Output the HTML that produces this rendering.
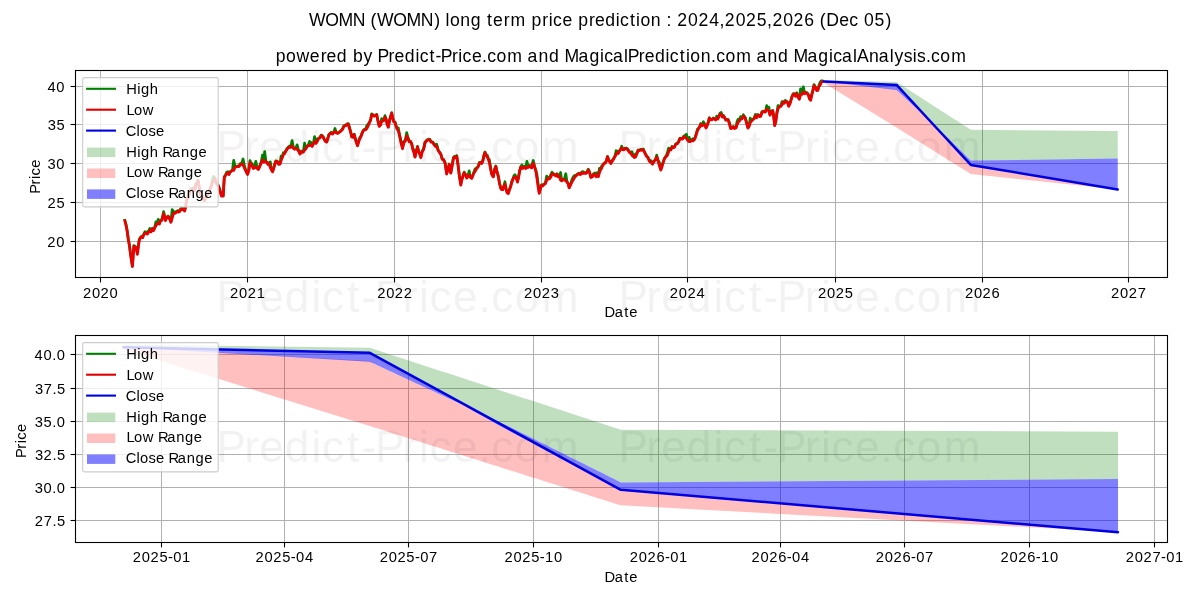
<!DOCTYPE html><html><head><meta charset="utf-8"><style>html,body{margin:0;padding:0;background:#fff;overflow:hidden}svg{display:block;will-change:transform}text{font-family:"Liberation Sans", sans-serif}</style></head><body>
<svg width="1200" height="600" viewBox="0 0 1200 600">
<rect width="1200" height="600" fill="#fff"/>
<defs><clipPath id="c1"><rect x="75.5" y="70.5" width="1092.0" height="207.0"/></clipPath>
<clipPath id="c2"><rect x="75.5" y="335.5" width="1092.0" height="207.0"/></clipPath></defs>
<text x="309.05 325.27 338.48 352.83 365.60 370.55 377.06 393.28 406.50 420.84 434.17 440.09 445.53 449.98 460.36 470.76 481.22 487.07 493.06 503.83 510.38 525.95 531.51 542.37 548.76 552.99 562.40 572.56 578.13 588.99 594.91 605.16 615.78 620.00 629.93 636.04 640.49 650.86 661.18 666.62 672.05 677.31 688.09 698.44 709.23 719.44 724.86 735.64 745.99 756.72 766.99 772.41 783.19 793.54 804.33 814.71 819.66 826.34 839.31 849.25 858.61 864.08 874.58 885.58" y="25.80" font-size="17.60" fill="#000">WOMN (WOMN) long term price prediction : 2024,2025,2026 (Dec 05)</text>
<text x="275.77 286.04 296.45 309.87 320.65 326.57 336.84 347.31 352.88 363.47 372.99 377.49 388.62 394.54 404.80 415.44 419.67 429.61 435.43 440.77 451.90 458.30 462.52 471.95 482.12 487.18 496.55 507.34 522.93 527.59 538.62 549.03 559.50 564.43 578.51 589.41 600.05 604.28 613.02 624.00 627.67 638.80 644.72 654.98 665.62 669.85 679.79 685.90 690.35 700.74 711.06 716.13 725.50 736.29 751.88 756.53 767.56 777.98 788.45 793.38 807.45 818.36 829.00 833.22 841.96 852.94 857.02 868.99 878.69 889.67 894.45 903.82 912.80 917.11 925.91 930.98 940.35 951.14" y="61.70" font-size="17.62" fill="#000">powered by Predict-Price.com and MagicalPrediction.com and MagicalAnalysis.com</text>
<line x1="75.5" x2="1167.5" y1="241.50" y2="241.50" stroke="#b0b0b0" stroke-width="1.0"/>
<line x1="75.5" x2="1167.5" y1="202.50" y2="202.50" stroke="#b0b0b0" stroke-width="1.0"/>
<line x1="75.5" x2="1167.5" y1="163.50" y2="163.50" stroke="#b0b0b0" stroke-width="1.0"/>
<line x1="75.5" x2="1167.5" y1="124.50" y2="124.50" stroke="#b0b0b0" stroke-width="1.0"/>
<line x1="75.5" x2="1167.5" y1="86.50" y2="86.50" stroke="#b0b0b0" stroke-width="1.0"/>
<line x1="100.50" x2="100.50" y1="70.5" y2="277.5" stroke="#b0b0b0" stroke-width="1.0"/>
<line x1="247.50" x2="247.50" y1="70.5" y2="277.5" stroke="#b0b0b0" stroke-width="1.0"/>
<line x1="394.50" x2="394.50" y1="70.5" y2="277.5" stroke="#b0b0b0" stroke-width="1.0"/>
<line x1="541.50" x2="541.50" y1="70.5" y2="277.5" stroke="#b0b0b0" stroke-width="1.0"/>
<line x1="687.50" x2="687.50" y1="70.5" y2="277.5" stroke="#b0b0b0" stroke-width="1.0"/>
<line x1="835.50" x2="835.50" y1="70.5" y2="277.5" stroke="#b0b0b0" stroke-width="1.0"/>
<line x1="982.50" x2="982.50" y1="70.5" y2="277.5" stroke="#b0b0b0" stroke-width="1.0"/>
<line x1="1128.50" x2="1128.50" y1="70.5" y2="277.5" stroke="#b0b0b0" stroke-width="1.0"/>
<g clip-path="url(#c1)">
<path d="M823.77,80.05 L896.56,81.99 L897.90,82.86 L899.25,83.72 L900.60,84.59 L901.95,85.46 L903.29,86.33 L904.64,87.19 L905.99,88.06 L907.33,88.93 L908.68,89.80 L910.03,90.66 L911.38,91.53 L912.72,92.40 L914.07,93.27 L915.42,94.13 L916.77,95.00 L918.11,95.87 L919.46,96.74 L920.81,97.60 L922.15,98.47 L923.50,99.34 L924.85,100.21 L926.20,101.07 L927.54,101.94 L928.89,102.81 L930.24,103.68 L931.58,104.54 L932.93,105.41 L934.28,106.28 L935.63,107.15 L936.97,108.01 L938.10,108.74 L939.23,109.46 L940.35,110.19 L941.48,110.91 L942.60,111.64 L943.73,112.36 L944.86,113.09 L945.98,113.81 L947.11,114.54 L948.23,115.26 L949.36,115.99 L950.49,116.72 L951.61,117.44 L952.74,118.17 L953.86,118.89 L954.99,119.62 L956.12,120.34 L957.24,121.07 L958.37,121.79 L959.49,122.52 L960.62,123.24 L961.75,123.97 L962.87,124.69 L964.00,125.42 L965.12,126.14 L966.25,126.87 L967.38,127.59 L968.50,128.32 L969.63,129.04 L970.75,129.77 L1117.74,131.01 L1117.74,158.62 L970.75,160.56 L969.63,159.45 L968.50,158.33 L967.38,157.22 L966.25,156.11 L965.12,155.00 L964.00,153.89 L962.87,152.78 L961.75,151.67 L960.62,150.56 L959.49,149.44 L958.37,148.33 L957.24,147.22 L956.12,146.11 L954.99,145.00 L953.86,143.89 L952.74,142.78 L951.61,141.67 L950.49,140.55 L949.36,139.44 L948.23,138.33 L947.11,137.22 L945.98,136.11 L944.86,135.00 L943.73,133.89 L942.60,132.77 L941.48,131.66 L940.35,130.55 L939.23,129.44 L938.10,128.33 L936.97,127.22 L935.63,125.98 L934.28,124.74 L932.93,123.50 L931.58,122.26 L930.24,121.02 L928.89,119.79 L927.54,118.55 L926.20,117.31 L924.85,116.07 L923.50,114.75 L922.15,113.26 L920.81,111.76 L919.46,110.27 L918.11,108.77 L916.77,107.28 L915.42,105.78 L914.07,104.29 L912.72,102.80 L911.38,101.30 L910.03,99.81 L908.68,98.31 L907.33,96.82 L905.99,95.32 L904.64,93.83 L903.29,92.33 L901.95,90.84 L900.60,89.34 L899.25,87.85 L897.90,86.35 L896.56,84.86 L823.77,81.60 Z" fill="#008000" fill-opacity="0.25"/>
<path d="M823.77,81.60 L896.56,89.59 L897.90,91.29 L899.25,92.53 L900.60,93.77 L901.95,95.01 L903.29,96.25 L904.64,97.49 L905.99,98.73 L907.33,99.97 L908.68,101.20 L910.03,102.44 L911.38,103.68 L912.72,104.92 L914.07,106.16 L915.42,107.40 L916.77,108.64 L918.11,109.88 L919.46,111.11 L920.81,112.35 L922.15,113.59 L923.50,114.83 L924.85,116.25 L926.20,117.74 L927.54,119.24 L928.89,120.73 L930.24,122.23 L931.58,123.72 L932.93,125.22 L934.28,126.71 L935.63,128.21 L936.97,129.70 L938.10,130.87 L939.23,132.05 L940.35,133.22 L941.48,134.39 L942.60,135.57 L943.73,136.74 L944.86,137.91 L945.98,139.09 L947.11,140.26 L948.23,141.43 L949.36,142.61 L950.49,143.78 L951.61,144.95 L952.74,146.13 L953.86,147.30 L954.99,148.47 L956.12,149.65 L957.24,150.82 L958.37,151.99 L959.49,153.17 L960.62,154.34 L961.75,155.51 L962.87,156.69 L964.00,157.86 L965.12,159.03 L966.25,160.21 L967.38,161.38 L968.50,162.55 L969.63,163.73 L970.75,164.90 L1117.74,189.64 L1117.74,189.57 L970.75,173.98 L969.63,173.27 L968.50,172.57 L967.38,171.86 L966.25,171.16 L965.12,170.46 L964.00,169.75 L962.87,169.05 L961.75,168.34 L960.62,167.64 L959.49,166.94 L958.37,166.23 L957.24,165.53 L956.12,164.82 L954.99,164.12 L953.86,163.42 L952.74,162.71 L951.61,162.01 L950.49,161.31 L949.36,160.60 L948.23,159.90 L947.11,159.19 L945.98,158.49 L944.86,157.79 L943.73,157.08 L942.60,156.38 L941.48,155.67 L940.35,154.97 L939.23,154.27 L938.10,153.56 L936.97,152.86 L935.63,152.02 L934.28,151.17 L932.93,150.33 L931.58,149.49 L930.24,148.65 L928.89,147.81 L927.54,146.96 L926.20,146.12 L924.85,145.28 L923.50,144.44 L922.15,143.60 L920.81,142.75 L919.46,141.91 L918.11,141.07 L916.77,140.23 L915.42,139.38 L914.07,138.54 L912.72,137.70 L911.38,136.86 L910.03,136.02 L908.68,135.17 L907.33,134.33 L905.99,133.49 L904.64,132.65 L903.29,131.81 L901.95,130.96 L900.60,130.12 L899.25,129.28 L897.90,128.44 L896.56,127.59 L823.77,82.84 Z" fill="#ff0000" fill-opacity="0.25"/>
</g>
<g clip-path="url(#c1)">
<path d="M124.5,219.0 L126.0,224.2 L127.1,230.3 L128.2,238.3 L129.4,244.9 L130.6,254.4 L132.4,266.0 L133.9,245.6 L135.5,246.9 L136.4,249.2 L137.4,252.0 L139.2,239.9 L140.4,237.4 L141.6,236.3 L142.7,237.0 L143.8,234.0 L145.0,231.6 L146.1,232.8 L147.3,231.6 L148.6,231.8 L149.8,228.4 L151.0,231.5 L152.3,228.3 L153.5,230.1 L154.7,227.2 L155.9,221.8 L157.1,223.5 L158.2,219.3 L159.4,223.5 L160.5,220.4 L161.7,219.7 L162.6,216.7 L163.6,211.5 L165.4,218.9 L166.8,217.4 L168.1,215.9 L169.5,218.0 L170.9,221.8 L172.2,209.5 L173.6,211.5 L174.8,212.9 L176.1,211.7 L177.3,210.9 L178.5,210.6 L179.8,210.9 L181.0,208.4 L182.2,208.6 L183.5,208.4 L184.7,210.5 L185.8,205.1 L187.0,198.2 L188.2,197.6 L189.3,192.4 L190.5,190.0 L191.7,188.8 L193.1,188.1 L194.6,189.9 L195.8,184.0 L196.9,182.9 L198.1,180.3 L199.2,186.6 L200.4,194.3 L201.8,194.7 L203.1,197.0 L204.5,200.3 L205.7,197.9 L206.8,195.0 L208.0,194.0 L209.2,192.1 L210.3,187.9 L211.5,185.4 L212.7,178.6 L213.8,176.5 L215.0,178.2 L216.2,182.3 L217.3,184.5 L218.5,185.6 L219.9,189.9 L221.4,195.4 L223.2,195.7 L224.3,176.8 L225.5,175.0 L226.6,172.3 L227.8,171.7 L229.0,174.0 L230.1,171.7 L231.3,170.9 L232.5,169.6 L233.7,160.3 L235.0,166.3 L236.2,166.4 L237.5,166.2 L238.9,166.0 L240.3,163.6 L241.7,163.2 L243.1,159.0 L244.4,165.9 L245.8,170.5 L247.5,174.0 L248.8,170.0 L250.0,160.5 L251.1,163.6 L252.2,163.5 L253.3,168.0 L254.6,167.3 L255.8,161.3 L257.1,167.8 L258.3,169.0 L259.7,165.9 L261.1,162.5 L262.5,155.1 L263.6,161.5 L264.7,151.5 L265.8,160.8 L266.9,162.3 L268.1,164.0 L269.2,162.4 L270.3,162.0 L271.4,169.2 L272.5,170.7 L273.6,168.5 L274.7,164.2 L275.8,160.9 L277.2,161.0 L278.6,163.9 L280.0,163.6 L281.1,156.1 L282.2,157.3 L283.3,152.7 L284.6,153.2 L285.8,150.7 L287.1,148.5 L288.3,147.2 L289.6,146.0 L290.8,146.9 L292.1,140.6 L293.3,147.0 L294.6,148.7 L295.8,148.0 L297.1,144.8 L298.3,149.2 L300.0,153.6 L301.1,151.1 L302.2,151.2 L303.3,151.6 L304.6,143.2 L305.8,148.4 L307.1,146.1 L308.3,144.9 L309.6,141.5 L310.8,142.4 L312.1,145.9 L313.3,143.5 L314.6,136.5 L316.0,142.8 L317.3,139.1 L318.7,138.0 L320.0,137.5 L321.1,135.1 L322.2,135.6 L323.3,136.9 L324.4,139.5 L325.6,140.8 L326.7,141.6 L327.8,138.3 L328.9,134.4 L330.0,133.3 L331.2,132.1 L332.5,133.6 L333.8,132.0 L335.0,128.5 L336.2,132.2 L337.5,132.9 L338.8,132.2 L340.0,131.4 L341.2,130.3 L342.5,129.0 L343.8,125.9 L345.0,125.2 L346.1,124.7 L347.2,123.9 L348.3,123.6 L349.4,126.7 L350.6,131.4 L351.7,136.4 L352.9,136.8 L354.2,134.1 L355.3,138.4 L356.4,141.3 L357.5,145.4 L358.6,141.5 L359.7,137.8 L360.8,136.4 L361.9,133.4 L363.1,130.6 L364.2,129.4 L365.6,129.3 L366.9,125.4 L368.3,123.9 L369.4,122.2 L370.6,119.8 L371.7,113.8 L372.9,114.7 L374.2,115.7 L375.4,115.1 L376.7,114.3 L377.9,120.4 L379.2,125.9 L380.4,124.8 L381.7,118.5 L382.8,120.5 L383.9,120.0 L385.0,115.6 L386.1,119.0 L387.2,123.9 L388.3,126.7 L389.4,120.4 L390.6,116.1 L391.7,112.6 L392.8,118.1 L393.9,121.5 L395.0,122.0 L396.1,125.7 L397.2,128.9 L398.3,127.9 L399.7,135.5 L401.1,141.4 L402.5,147.5 L403.9,141.5 L405.3,140.2 L406.7,132.5 L407.9,137.4 L409.2,141.3 L410.4,141.1 L411.7,143.5 L412.8,148.5 L413.9,149.8 L415.0,156.7 L416.2,151.5 L417.5,146.4 L418.6,151.0 L419.7,153.5 L420.8,156.9 L422.2,151.2 L423.6,148.8 L425.0,142.1 L426.1,140.9 L427.2,139.7 L428.3,139.4 L429.7,139.2 L431.1,141.7 L432.5,141.8 L433.9,143.7 L435.3,145.8 L436.7,144.2 L438.1,149.7 L439.4,151.9 L440.8,153.8 L442.2,158.7 L443.6,159.5 L445.0,162.3 L446.7,173.5 L447.9,169.1 L449.2,164.0 L450.8,172.7 L452.1,165.5 L453.3,157.6 L454.4,156.4 L455.6,157.1 L456.7,155.5 L458.1,165.0 L459.4,175.9 L460.8,183.8 L461.7,179.8 L462.9,176.0 L464.2,172.1 L465.4,174.1 L466.7,177.6 L467.9,176.0 L469.2,170.9 L470.4,176.9 L471.7,177.9 L472.8,175.2 L473.9,172.2 L475.0,169.0 L476.1,168.2 L477.2,167.5 L478.3,166.0 L479.4,162.4 L480.6,162.2 L481.7,163.0 L482.8,160.6 L483.9,155.1 L485.0,152.0 L486.1,155.1 L487.2,155.0 L488.3,158.6 L489.4,159.7 L490.6,167.2 L491.7,173.8 L493.3,176.4 L494.6,169.2 L495.8,165.9 L497.1,172.0 L498.3,175.9 L499.4,182.2 L500.6,187.5 L501.7,189.2 L502.8,187.8 L503.9,185.8 L505.0,181.7 L506.1,188.9 L507.2,192.3 L508.3,192.2 L509.4,189.4 L510.6,186.3 L511.7,181.3 L512.8,179.2 L513.9,175.8 L515.0,174.7 L516.2,177.4 L517.5,181.6 L518.6,175.9 L519.7,170.6 L520.8,166.5 L521.9,165.0 L523.1,167.8 L524.2,166.2 L525.6,168.0 L526.9,161.4 L528.3,166.8 L529.4,165.5 L530.6,166.7 L531.7,165.1 L533.3,160.5 L534.5,165.9 L535.8,170.3 L536.9,174.3 L538.1,183.6 L539.2,191.9 L540.3,188.6 L541.4,184.8 L542.5,185.6 L543.9,184.0 L545.3,183.0 L546.7,176.0 L548.1,177.7 L549.4,178.4 L550.8,174.5 L552.0,172.1 L553.3,173.9 L554.5,174.3 L555.8,175.5 L557.0,173.6 L558.3,176.3 L559.4,175.7 L560.6,172.5 L561.7,180.4 L563.1,179.2 L564.4,179.2 L565.8,173.7 L566.9,181.4 L568.1,183.2 L569.2,187.4 L570.6,184.5 L571.9,179.6 L573.3,176.8 L574.7,175.4 L576.1,175.3 L577.5,173.9 L578.9,173.2 L580.3,174.2 L581.7,172.1 L583.0,171.6 L584.2,172.4 L585.5,173.0 L586.7,172.3 L588.3,169.1 L589.5,171.7 L590.8,177.0 L592.2,176.4 L593.6,173.6 L595.0,172.8 L596.1,176.2 L597.2,172.7 L598.3,176.2 L599.4,168.4 L600.6,169.0 L601.7,166.0 L602.8,164.8 L603.9,163.4 L605.0,162.7 L606.2,161.2 L607.5,156.3 L608.6,159.4 L609.7,161.3 L610.8,163.0 L612.2,160.6 L613.6,158.6 L615.0,155.9 L616.1,150.7 L617.2,151.0 L618.3,152.9 L619.4,150.7 L620.6,149.0 L621.7,146.2 L622.8,149.2 L623.9,149.1 L625.0,148.2 L626.1,148.0 L627.2,148.7 L628.3,150.0 L629.5,151.6 L630.8,152.6 L632.0,151.7 L633.3,155.8 L634.4,157.0 L635.6,153.8 L636.7,153.8 L638.0,150.1 L639.2,150.2 L640.6,149.4 L641.9,149.6 L643.3,149.0 L644.4,151.7 L645.6,154.0 L646.7,156.0 L648.1,157.5 L649.4,160.8 L650.8,160.5 L652.5,163.7 L653.9,161.0 L655.3,159.8 L656.7,155.1 L658.1,160.3 L659.4,162.4 L660.8,169.2 L661.9,164.6 L663.1,162.3 L664.2,158.8 L665.3,157.1 L666.4,155.6 L667.5,152.5 L668.6,148.0 L669.7,148.9 L670.8,149.4 L672.0,146.4 L673.3,147.1 L674.5,146.7 L675.8,143.8 L677.2,143.3 L678.6,141.5 L680.0,138.1 L681.2,138.3 L682.5,138.6 L683.8,136.2 L685.0,135.4 L686.4,134.3 L687.8,139.9 L689.2,137.3 L690.4,141.0 L691.6,139.8 L692.8,138.7 L694.0,139.5 L695.1,137.6 L696.2,134.0 L697.3,129.5 L698.4,128.3 L699.6,126.7 L700.7,123.6 L702.0,125.4 L703.4,121.7 L704.7,124.1 L706.0,127.5 L707.1,125.0 L708.2,122.2 L709.3,117.7 L710.6,119.3 L712.0,119.3 L713.3,117.9 L714.4,118.4 L715.6,119.4 L716.7,116.1 L717.8,118.0 L718.9,116.0 L720.0,113.2 L721.2,112.5 L722.4,116.5 L723.5,115.5 L724.7,117.4 L725.8,119.7 L726.9,119.3 L728.0,119.3 L729.4,122.6 L730.7,128.1 L732.0,127.7 L733.3,126.4 L734.6,128.0 L736.0,127.5 L737.1,121.3 L738.2,119.1 L739.3,120.6 L740.6,116.6 L742.0,118.4 L743.3,114.7 L744.3,116.2 L745.3,117.8 L746.6,122.2 L748.0,127.6 L749.1,125.7 L750.2,118.2 L751.3,120.4 L752.6,119.5 L754.0,118.3 L755.4,114.4 L756.7,115.0 L758.0,114.5 L759.4,116.0 L760.7,115.8 L762.0,111.7 L763.2,111.1 L764.4,111.5 L765.5,111.5 L766.7,105.6 L767.8,109.0 L768.9,107.1 L770.0,114.7 L771.4,111.2 L772.7,110.3 L773.7,115.6 L774.7,125.1 L775.8,121.1 L776.9,112.7 L778.0,105.5 L779.3,106.3 L780.7,106.0 L782.0,101.5 L783.1,101.6 L784.2,102.8 L785.3,100.4 L786.4,101.1 L787.6,102.3 L788.7,105.0 L789.9,103.3 L791.0,99.6 L792.1,96.1 L793.3,93.6 L794.4,93.7 L795.6,95.5 L796.7,92.7 L798.0,96.6 L799.3,98.4 L800.6,88.8 L802.0,93.9 L803.3,86.8 L804.6,92.6 L806.0,92.3 L807.3,93.0 L808.4,94.7 L809.6,98.7 L810.7,98.3 L811.8,94.1 L812.9,90.1 L814.0,84.5 L815.4,87.1 L816.7,90.0 L817.8,89.8 L818.9,85.8 L820.0,82.5 L821.2,80.9 L822.3,80.8 L823.5,81.0" fill="none" stroke="#008000" stroke-width="2.7" stroke-linejoin="round"/>
<path d="M124.5,219.5 L126.0,225.3 L127.1,230.8 L128.2,238.8 L129.4,245.4 L130.6,254.9 L132.4,266.5 L133.9,246.1 L135.5,247.4 L136.4,249.7 L137.4,254.4 L139.2,240.4 L140.4,237.9 L141.6,236.8 L142.7,237.6 L143.8,234.5 L145.0,233.0 L146.1,233.3 L147.3,234.1 L148.6,232.3 L149.8,230.4 L151.0,232.0 L152.3,228.8 L153.5,230.6 L154.7,227.9 L155.9,225.7 L157.1,224.0 L158.2,223.2 L159.4,224.0 L160.5,220.9 L161.7,220.5 L162.6,217.8 L163.6,213.7 L165.4,220.6 L166.8,217.9 L168.1,216.4 L169.5,218.5 L170.9,222.3 L172.2,217.9 L173.6,213.2 L174.8,213.4 L176.1,212.6 L177.3,211.4 L178.5,212.1 L179.8,211.4 L181.0,208.9 L182.2,209.6 L183.5,209.6 L184.7,211.0 L185.8,205.6 L187.0,198.7 L188.2,198.1 L189.3,192.9 L190.5,190.5 L191.7,189.3 L193.1,188.6 L194.6,190.4 L195.8,185.2 L196.9,183.4 L198.1,180.8 L199.2,187.1 L200.4,194.8 L201.8,195.4 L203.1,198.6 L204.5,200.8 L205.7,198.4 L206.8,195.5 L208.0,194.5 L209.2,192.6 L210.3,188.4 L211.5,185.9 L212.7,181.3 L213.8,180.6 L215.0,178.7 L216.2,182.8 L217.3,185.4 L218.5,186.1 L219.9,190.4 L221.4,196.0 L223.2,196.2 L224.3,177.3 L225.5,175.5 L226.6,174.1 L227.8,172.7 L229.0,174.5 L230.1,172.2 L231.3,171.4 L232.5,170.1 L233.7,170.4 L235.0,167.2 L236.2,166.9 L237.5,166.7 L238.9,166.5 L240.3,165.1 L241.7,163.7 L243.1,164.9 L244.4,168.0 L245.8,171.0 L247.5,174.5 L248.8,170.5 L250.0,162.7 L251.1,164.1 L252.2,166.2 L253.3,168.5 L254.6,167.8 L255.8,166.8 L257.1,168.3 L258.3,169.5 L259.7,166.7 L261.1,163.0 L262.5,159.9 L263.6,162.0 L264.7,161.9 L265.8,161.3 L266.9,162.8 L268.1,164.5 L269.2,163.6 L270.3,167.7 L271.4,169.8 L272.5,171.9 L273.6,169.0 L274.7,164.7 L275.8,161.4 L277.2,161.5 L278.6,164.4 L280.0,164.1 L281.1,160.5 L282.2,157.8 L283.3,154.8 L284.6,153.7 L285.8,151.2 L287.1,149.0 L288.3,147.7 L289.6,147.1 L290.8,147.4 L292.1,145.9 L293.3,148.1 L294.6,149.2 L295.8,148.5 L297.1,149.3 L298.3,150.7 L300.0,154.1 L301.1,151.6 L302.2,152.4 L303.3,152.1 L304.6,150.0 L305.8,148.9 L307.1,146.6 L308.3,145.5 L309.6,145.6 L310.8,144.9 L312.1,146.4 L313.3,144.0 L314.6,141.5 L316.0,143.3 L317.3,141.4 L318.7,138.5 L320.0,138.0 L321.1,135.6 L322.2,136.1 L323.3,137.4 L324.4,140.0 L325.6,141.7 L326.7,142.1 L327.8,138.8 L328.9,134.9 L330.0,133.8 L331.2,133.4 L332.5,134.1 L333.8,132.5 L335.0,131.4 L336.2,132.7 L337.5,133.4 L338.8,132.7 L340.0,131.9 L341.2,130.8 L342.5,129.5 L343.8,126.4 L345.0,125.7 L346.1,125.5 L347.2,124.4 L348.3,124.2 L349.4,128.3 L350.6,131.9 L351.7,136.9 L352.9,137.3 L354.2,134.6 L355.3,139.0 L356.4,142.8 L357.5,145.9 L358.6,142.0 L359.7,139.0 L360.8,136.9 L361.9,133.9 L363.1,131.1 L364.2,129.9 L365.6,129.8 L366.9,128.5 L368.3,125.6 L369.4,122.7 L370.6,120.3 L371.7,114.7 L372.9,115.4 L374.2,116.2 L375.4,115.6 L376.7,114.8 L377.9,120.9 L379.2,126.4 L380.4,125.3 L381.7,121.3 L382.8,121.0 L383.9,120.5 L385.0,117.1 L386.1,119.5 L387.2,124.4 L388.3,127.2 L389.4,121.4 L390.6,116.9 L391.7,113.1 L392.8,118.6 L393.9,122.0 L395.0,122.5 L396.1,126.2 L397.2,129.4 L398.3,130.6 L399.7,136.0 L401.1,143.2 L402.5,148.7 L403.9,142.7 L405.3,141.0 L406.7,135.9 L407.9,137.9 L409.2,141.8 L410.4,141.6 L411.7,144.0 L412.8,149.5 L413.9,152.6 L415.0,157.2 L416.2,152.1 L417.5,146.9 L418.6,151.5 L419.7,154.0 L420.8,157.7 L422.2,151.7 L423.6,149.3 L425.0,143.1 L426.1,141.4 L427.2,140.2 L428.3,139.9 L429.7,139.7 L431.1,142.2 L432.5,142.3 L433.9,144.2 L435.3,146.3 L436.7,146.5 L438.1,150.3 L439.4,152.4 L440.8,154.3 L442.2,159.2 L443.6,160.0 L445.0,162.8 L446.7,174.0 L447.9,169.6 L449.2,164.5 L450.8,173.2 L452.1,166.0 L453.3,159.4 L454.4,156.9 L455.6,157.6 L456.7,156.5 L458.1,165.5 L459.4,176.4 L460.8,185.2 L461.7,180.3 L462.9,176.5 L464.2,172.8 L465.4,174.6 L466.7,178.1 L467.9,176.5 L469.2,175.1 L470.4,177.4 L471.7,178.4 L472.8,175.7 L473.9,172.7 L475.0,171.7 L476.1,169.4 L477.2,168.0 L478.3,166.5 L479.4,163.3 L480.6,162.7 L481.7,163.5 L482.8,161.1 L483.9,156.0 L485.0,152.5 L486.1,155.6 L487.2,156.7 L488.3,159.1 L489.4,162.8 L490.6,169.0 L491.7,174.3 L493.3,176.9 L494.6,169.7 L495.8,166.4 L497.1,172.5 L498.3,176.4 L499.4,182.7 L500.6,188.0 L501.7,189.7 L502.8,189.7 L503.9,186.3 L505.0,184.2 L506.1,189.4 L507.2,192.8 L508.3,193.6 L509.4,190.1 L510.6,186.8 L511.7,182.7 L512.8,179.7 L513.9,177.7 L515.0,177.1 L516.2,177.9 L517.5,182.1 L518.6,177.4 L519.7,171.1 L520.8,167.0 L521.9,168.3 L523.1,168.3 L524.2,166.7 L525.6,168.5 L526.9,167.6 L528.3,167.3 L529.4,166.0 L530.6,167.2 L531.7,167.9 L533.3,163.3 L534.5,167.0 L535.8,170.8 L536.9,178.0 L538.1,186.6 L539.2,193.4 L540.3,189.1 L541.4,185.8 L542.5,186.1 L543.9,184.5 L545.3,183.8 L546.7,180.5 L548.1,178.2 L549.4,178.9 L550.8,177.2 L552.0,173.7 L553.3,174.4 L554.5,174.8 L555.8,176.0 L557.0,174.1 L558.3,176.8 L559.4,176.2 L560.6,180.1 L561.7,180.9 L563.1,179.7 L564.4,179.7 L565.8,180.8 L566.9,181.9 L568.1,183.7 L569.2,187.9 L570.6,185.0 L571.9,182.0 L573.3,179.8 L574.7,177.3 L576.1,175.8 L577.5,174.4 L578.9,173.7 L580.3,174.7 L581.7,172.7 L583.0,173.5 L584.2,172.9 L585.5,173.5 L586.7,172.8 L588.3,170.0 L589.5,172.2 L590.8,177.5 L592.2,176.9 L593.6,174.7 L595.0,174.5 L596.1,176.7 L597.2,174.6 L598.3,176.7 L599.4,172.8 L600.6,169.7 L601.7,168.0 L602.8,165.3 L603.9,163.9 L605.0,163.2 L606.2,161.7 L607.5,156.8 L608.6,159.9 L609.7,161.8 L610.8,163.5 L612.2,161.1 L613.6,159.1 L615.0,156.4 L616.1,154.6 L617.2,152.6 L618.3,153.4 L619.4,151.3 L620.6,149.5 L621.7,147.9 L622.8,149.7 L623.9,149.9 L625.0,148.7 L626.1,148.5 L627.2,149.2 L628.3,150.5 L629.5,152.6 L630.8,153.1 L632.0,155.3 L633.3,156.3 L634.4,157.5 L635.6,157.0 L636.7,154.3 L638.0,150.6 L639.2,150.7 L640.6,149.9 L641.9,150.3 L643.3,149.6 L644.4,152.2 L645.6,154.5 L646.7,156.5 L648.1,158.0 L649.4,161.3 L650.8,162.2 L652.5,164.2 L653.9,161.5 L655.3,160.3 L656.7,157.1 L658.1,160.8 L659.4,165.9 L660.8,170.1 L661.9,167.0 L663.1,162.8 L664.2,159.3 L665.3,157.6 L666.4,156.1 L667.5,155.1 L668.6,151.9 L669.7,149.4 L670.8,149.9 L672.0,146.9 L673.3,147.6 L674.5,147.2 L675.8,144.3 L677.2,143.8 L678.6,142.0 L680.0,138.6 L681.2,138.8 L682.5,139.1 L683.8,136.7 L685.0,137.3 L686.4,138.3 L687.8,140.4 L689.2,141.6 L690.4,141.5 L691.6,140.3 L692.8,140.8 L694.0,140.0 L695.1,138.1 L696.2,134.5 L697.3,131.3 L698.4,128.8 L699.6,127.2 L700.7,124.1 L702.0,125.9 L703.4,125.1 L704.7,124.6 L706.0,128.0 L707.1,125.8 L708.2,122.7 L709.3,118.2 L710.6,119.8 L712.0,119.8 L713.3,118.4 L714.4,118.9 L715.6,120.0 L716.7,118.6 L717.8,119.1 L718.9,116.5 L720.0,114.1 L721.2,114.8 L722.4,117.0 L723.5,116.0 L724.7,117.9 L725.8,120.2 L726.9,119.8 L728.0,119.8 L729.4,123.8 L730.7,128.6 L732.0,128.2 L733.3,126.9 L734.6,128.5 L736.0,128.0 L737.1,124.6 L738.2,122.0 L739.3,121.1 L740.6,119.2 L742.0,118.9 L743.3,116.2 L744.3,116.7 L745.3,118.3 L746.6,123.7 L748.0,128.1 L749.1,126.2 L750.2,122.8 L751.3,121.2 L752.6,120.0 L754.0,118.8 L755.4,116.3 L756.7,117.7 L758.0,115.0 L759.4,116.5 L760.7,116.3 L762.0,112.2 L763.2,111.6 L764.4,112.0 L765.5,112.0 L766.7,109.3 L767.8,109.8 L768.9,110.9 L770.0,115.2 L771.4,111.7 L772.7,110.8 L773.7,117.0 L774.7,125.6 L775.8,121.6 L776.9,113.2 L778.0,108.9 L779.3,106.8 L780.7,106.5 L782.0,104.6 L783.1,102.1 L784.2,103.3 L785.3,101.7 L786.4,101.6 L787.6,102.8 L788.7,106.4 L789.9,103.8 L791.0,100.4 L792.1,96.6 L793.3,94.1 L794.4,94.2 L795.6,96.2 L796.7,93.7 L798.0,97.1 L799.3,99.4 L800.6,94.6 L802.0,94.4 L803.3,92.0 L804.6,93.8 L806.0,92.8 L807.3,93.5 L808.4,95.2 L809.6,99.2 L810.7,100.2 L811.8,94.9 L812.9,90.6 L814.0,85.7 L815.4,87.6 L816.7,90.5 L817.8,90.3 L818.9,86.3 L820.0,85.4 L821.2,82.7 L822.3,81.3 L823.5,81.5" fill="none" stroke="#ea0000" stroke-width="2.8" stroke-linejoin="round"/>
</g>
<g clip-path="url(#c1)">
<path d="M823.77,81.60 L896.56,84.86 L897.90,86.35 L899.25,87.85 L900.60,89.34 L901.95,90.84 L903.29,92.33 L904.64,93.83 L905.99,95.32 L907.33,96.82 L908.68,98.31 L910.03,99.81 L911.38,101.30 L912.72,102.80 L914.07,104.29 L915.42,105.78 L916.77,107.28 L918.11,108.77 L919.46,110.27 L920.81,111.76 L922.15,113.26 L923.50,114.75 L924.85,116.07 L926.20,117.31 L927.54,118.55 L928.89,119.79 L930.24,121.02 L931.58,122.26 L932.93,123.50 L934.28,124.74 L935.63,125.98 L936.97,127.22 L938.10,128.33 L939.23,129.44 L940.35,130.55 L941.48,131.66 L942.60,132.77 L943.73,133.89 L944.86,135.00 L945.98,136.11 L947.11,137.22 L948.23,138.33 L949.36,139.44 L950.49,140.55 L951.61,141.67 L952.74,142.78 L953.86,143.89 L954.99,145.00 L956.12,146.11 L957.24,147.22 L958.37,148.33 L959.49,149.44 L960.62,150.56 L961.75,151.67 L962.87,152.78 L964.00,153.89 L965.12,155.00 L966.25,156.11 L967.38,157.22 L968.50,158.33 L969.63,159.45 L970.75,160.56 L1117.74,158.62 L1117.74,189.64 L970.75,164.90 L969.63,163.73 L968.50,162.55 L967.38,161.38 L966.25,160.21 L965.12,159.03 L964.00,157.86 L962.87,156.69 L961.75,155.51 L960.62,154.34 L959.49,153.17 L958.37,151.99 L957.24,150.82 L956.12,149.65 L954.99,148.47 L953.86,147.30 L952.74,146.13 L951.61,144.95 L950.49,143.78 L949.36,142.61 L948.23,141.43 L947.11,140.26 L945.98,139.09 L944.86,137.91 L943.73,136.74 L942.60,135.57 L941.48,134.39 L940.35,133.22 L939.23,132.05 L938.10,130.87 L936.97,129.70 L935.63,128.21 L934.28,126.71 L932.93,125.22 L931.58,123.72 L930.24,122.23 L928.89,120.73 L927.54,119.24 L926.20,117.74 L924.85,116.25 L923.50,114.83 L922.15,113.59 L920.81,112.35 L919.46,111.11 L918.11,109.88 L916.77,108.64 L915.42,107.40 L914.07,106.16 L912.72,104.92 L911.38,103.68 L910.03,102.44 L908.68,101.20 L907.33,99.97 L905.99,98.73 L904.64,97.49 L903.29,96.25 L901.95,95.01 L900.60,93.77 L899.25,92.53 L897.90,91.29 L896.56,90.06 L823.77,81.60 Z" fill="#0000ff" fill-opacity="0.5"/>
<path d="M823.8,81.6 L896.6,84.9 L937.0,128.5 L970.8,164.9 L1117.7,189.6" fill="none" stroke="#0000e0" stroke-width="2.5" stroke-linejoin="round" stroke-linecap="round"/>
</g>
<rect x="75.5" y="70.5" width="1092.0" height="207.0" fill="none" stroke="#000" stroke-width="1.1"/>
<line x1="70.6" x2="75.5" y1="241.50" y2="241.50" stroke="#000" stroke-width="1.1"/>
<text x="47.29 56.31" y="246.50" font-size="14.72" fill="#000">20</text>
<line x1="70.6" x2="75.5" y1="202.50" y2="202.50" stroke="#000" stroke-width="1.1"/>
<text x="47.58 56.55" y="207.50" font-size="14.72" fill="#000">25</text>
<line x1="70.6" x2="75.5" y1="163.50" y2="163.50" stroke="#000" stroke-width="1.1"/>
<text x="47.49 56.31" y="168.50" font-size="14.72" fill="#000">30</text>
<line x1="70.6" x2="75.5" y1="124.50" y2="124.50" stroke="#000" stroke-width="1.1"/>
<text x="47.78 56.55" y="129.50" font-size="14.72" fill="#000">35</text>
<line x1="70.6" x2="75.5" y1="86.50" y2="86.50" stroke="#000" stroke-width="1.1"/>
<text x="47.47 56.31" y="91.50" font-size="14.72" fill="#000">40</text>
<line x1="100.50" x2="100.50" y1="277.5" y2="282.4" stroke="#000" stroke-width="1.1"/>
<text x="82.92 91.94 100.59 109.61" y="297.80" font-size="14.72" fill="#000">2020</text>
<line x1="247.50" x2="247.50" y1="277.5" y2="282.4" stroke="#000" stroke-width="1.1"/>
<text x="230.10 239.12 247.77 256.72" y="297.80" font-size="14.72" fill="#000">2021</text>
<line x1="394.50" x2="394.50" y1="277.5" y2="282.4" stroke="#000" stroke-width="1.1"/>
<text x="377.15 386.17 394.83 403.66" y="297.80" font-size="14.72" fill="#000">2022</text>
<line x1="541.50" x2="541.50" y1="277.5" y2="282.4" stroke="#000" stroke-width="1.1"/>
<text x="524.01 533.03 541.69 550.73" y="297.80" font-size="14.72" fill="#000">2023</text>
<line x1="687.50" x2="687.50" y1="277.5" y2="282.4" stroke="#000" stroke-width="1.1"/>
<text x="669.85 678.87 687.52 696.54" y="297.80" font-size="14.72" fill="#000">2024</text>
<line x1="835.50" x2="835.50" y1="277.5" y2="282.4" stroke="#000" stroke-width="1.1"/>
<text x="818.06 827.08 835.74 844.70" y="297.80" font-size="14.72" fill="#000">2025</text>
<line x1="982.50" x2="982.50" y1="277.5" y2="282.4" stroke="#000" stroke-width="1.1"/>
<text x="964.89 973.91 982.57 991.59" y="297.80" font-size="14.72" fill="#000">2026</text>
<line x1="1128.50" x2="1128.50" y1="277.5" y2="282.4" stroke="#000" stroke-width="1.1"/>
<text x="1111.05 1120.07 1128.72 1137.72" y="297.80" font-size="14.72" fill="#000">2027</text>
<text x="604.39 614.67 624.19 629.20" y="316.50" font-size="14.72" fill="#000">Date</text>
<g transform="translate(40,176) rotate(-90)"><text x="-17.74 -8.45 -3.11 0.42 8.29" y="0.00" font-size="14.72" fill="#000">Price</text></g>
<line x1="75.5" x2="1167.5" y1="520.50" y2="520.50" stroke="#b0b0b0" stroke-width="1.0"/>
<line x1="75.5" x2="1167.5" y1="487.50" y2="487.50" stroke="#b0b0b0" stroke-width="1.0"/>
<line x1="75.5" x2="1167.5" y1="454.50" y2="454.50" stroke="#b0b0b0" stroke-width="1.0"/>
<line x1="75.5" x2="1167.5" y1="421.50" y2="421.50" stroke="#b0b0b0" stroke-width="1.0"/>
<line x1="75.5" x2="1167.5" y1="388.50" y2="388.50" stroke="#b0b0b0" stroke-width="1.0"/>
<line x1="75.5" x2="1167.5" y1="354.50" y2="354.50" stroke="#b0b0b0" stroke-width="1.0"/>
<line x1="161.50" x2="161.50" y1="335.5" y2="542.5" stroke="#b0b0b0" stroke-width="1.0"/>
<line x1="284.50" x2="284.50" y1="335.5" y2="542.5" stroke="#b0b0b0" stroke-width="1.0"/>
<line x1="408.50" x2="408.50" y1="335.5" y2="542.5" stroke="#b0b0b0" stroke-width="1.0"/>
<line x1="533.50" x2="533.50" y1="335.5" y2="542.5" stroke="#b0b0b0" stroke-width="1.0"/>
<line x1="658.50" x2="658.50" y1="335.5" y2="542.5" stroke="#b0b0b0" stroke-width="1.0"/>
<line x1="780.50" x2="780.50" y1="335.5" y2="542.5" stroke="#b0b0b0" stroke-width="1.0"/>
<line x1="904.50" x2="904.50" y1="335.5" y2="542.5" stroke="#b0b0b0" stroke-width="1.0"/>
<line x1="1029.50" x2="1029.50" y1="335.5" y2="542.5" stroke="#b0b0b0" stroke-width="1.0"/>
<line x1="1154.50" x2="1154.50" y1="335.5" y2="542.5" stroke="#b0b0b0" stroke-width="1.0"/>
<g clip-path="url(#c2)">
<path d="M123.51,344.54 L369.76,347.86 L374.31,349.35 L378.87,350.83 L383.43,352.32 L387.99,353.80 L392.54,355.29 L397.10,356.77 L401.66,358.26 L406.22,359.74 L410.78,361.23 L415.33,362.72 L419.89,364.20 L424.45,365.69 L429.01,367.17 L433.56,368.66 L438.12,370.14 L442.68,371.63 L447.24,373.11 L451.79,374.60 L456.35,376.08 L460.91,377.57 L465.47,379.05 L470.03,380.54 L474.58,382.02 L479.14,383.51 L483.70,385.00 L488.26,386.48 L492.81,387.97 L497.37,389.45 L501.93,390.94 L506.49,392.42 L510.30,393.66 L514.11,394.90 L517.91,396.15 L521.72,397.39 L525.53,398.63 L529.34,399.87 L533.15,401.11 L536.96,402.35 L540.77,403.60 L544.58,404.84 L548.39,406.08 L552.20,407.32 L556.01,408.56 L559.82,409.80 L563.63,411.04 L567.44,412.29 L571.25,413.53 L575.06,414.77 L578.87,416.01 L582.67,417.25 L586.48,418.49 L590.29,419.73 L594.10,420.98 L597.91,422.22 L601.72,423.46 L605.53,424.70 L609.34,425.94 L613.15,427.18 L616.96,428.42 L620.77,429.67 L1118.03,431.79 L1118.03,479.07 L620.77,482.39 L616.96,480.49 L613.15,478.58 L609.34,476.68 L605.53,474.78 L601.72,472.87 L597.91,470.97 L594.10,469.07 L590.29,467.17 L586.48,465.26 L582.67,463.36 L578.87,461.46 L575.06,459.55 L571.25,457.65 L567.44,455.75 L563.63,453.85 L559.82,451.94 L556.01,450.04 L552.20,448.14 L548.39,446.23 L544.58,444.33 L540.77,442.43 L536.96,440.53 L533.15,438.62 L529.34,436.72 L525.53,434.82 L521.72,432.91 L517.91,431.01 L514.11,429.11 L510.30,427.21 L506.49,425.30 L501.93,423.18 L497.37,421.06 L492.81,418.94 L488.26,416.82 L483.70,414.70 L479.14,412.58 L474.58,410.46 L470.03,408.34 L465.47,406.21 L460.91,403.96 L456.35,401.40 L451.79,398.84 L447.24,396.28 L442.68,393.72 L438.12,391.16 L433.56,388.60 L429.01,386.05 L424.45,383.49 L419.89,380.93 L415.33,378.37 L410.78,375.81 L406.22,373.25 L401.66,370.69 L397.10,368.13 L392.54,365.57 L387.99,363.01 L383.43,360.45 L378.87,357.89 L374.31,355.33 L369.76,352.78 L123.51,347.20 Z" fill="#008000" fill-opacity="0.25"/>
<path d="M123.51,347.20 L369.76,360.88 L374.31,363.79 L378.87,365.91 L383.43,368.04 L387.99,370.16 L392.54,372.28 L397.10,374.40 L401.66,376.52 L406.22,378.64 L410.78,380.76 L415.33,382.88 L419.89,385.00 L424.45,387.13 L429.01,389.25 L433.56,391.37 L438.12,393.49 L442.68,395.61 L447.24,397.73 L451.79,399.85 L456.35,401.97 L460.91,404.09 L465.47,406.52 L470.03,409.08 L474.58,411.64 L479.14,414.20 L483.70,416.76 L488.26,419.32 L492.81,421.88 L497.37,424.43 L501.93,426.99 L506.49,429.55 L510.30,431.56 L514.11,433.57 L517.91,435.58 L521.72,437.59 L525.53,439.60 L529.34,441.61 L533.15,443.62 L536.96,445.63 L540.77,447.63 L544.58,449.64 L548.39,451.65 L552.20,453.66 L556.01,455.67 L559.82,457.68 L563.63,459.69 L567.44,461.70 L571.25,463.71 L575.06,465.72 L578.87,467.73 L582.67,469.73 L586.48,471.74 L590.29,473.75 L594.10,475.76 L597.91,477.77 L601.72,479.78 L605.53,481.79 L609.34,483.80 L613.15,485.81 L616.96,487.82 L620.77,489.82 L1118.03,532.19 L1118.03,532.06 L620.77,505.36 L616.96,504.16 L613.15,502.95 L609.34,501.75 L605.53,500.54 L601.72,499.34 L597.91,498.13 L594.10,496.93 L590.29,495.72 L586.48,494.52 L582.67,493.31 L578.87,492.11 L575.06,490.90 L571.25,489.69 L567.44,488.49 L563.63,487.28 L559.82,486.08 L556.01,484.87 L552.20,483.67 L548.39,482.46 L544.58,481.26 L540.77,480.05 L536.96,478.85 L533.15,477.64 L529.34,476.44 L525.53,475.23 L521.72,474.03 L517.91,472.82 L514.11,471.62 L510.30,470.41 L506.49,469.21 L501.93,467.76 L497.37,466.32 L492.81,464.88 L488.26,463.44 L483.70,462.00 L479.14,460.55 L474.58,459.11 L470.03,457.67 L465.47,456.23 L460.91,454.79 L456.35,453.34 L451.79,451.90 L447.24,450.46 L442.68,449.02 L438.12,447.58 L433.56,446.14 L429.01,444.69 L424.45,443.25 L419.89,441.81 L415.33,440.37 L410.78,438.93 L406.22,437.48 L401.66,436.04 L397.10,434.60 L392.54,433.16 L387.99,431.72 L383.43,430.27 L378.87,428.83 L374.31,427.39 L369.76,425.95 L123.51,349.32 Z" fill="#ff0000" fill-opacity="0.25"/>
</g>
<g clip-path="url(#c2)">
<path d="M123.51,347.20 L369.76,352.78 L374.31,355.33 L378.87,357.89 L383.43,360.45 L387.99,363.01 L392.54,365.57 L397.10,368.13 L401.66,370.69 L406.22,373.25 L410.78,375.81 L415.33,378.37 L419.89,380.93 L424.45,383.49 L429.01,386.05 L433.56,388.60 L438.12,391.16 L442.68,393.72 L447.24,396.28 L451.79,398.84 L456.35,401.40 L460.91,403.96 L465.47,406.21 L470.03,408.34 L474.58,410.46 L479.14,412.58 L483.70,414.70 L488.26,416.82 L492.81,418.94 L497.37,421.06 L501.93,423.18 L506.49,425.30 L510.30,427.21 L514.11,429.11 L517.91,431.01 L521.72,432.91 L525.53,434.82 L529.34,436.72 L533.15,438.62 L536.96,440.53 L540.77,442.43 L544.58,444.33 L548.39,446.23 L552.20,448.14 L556.01,450.04 L559.82,451.94 L563.63,453.85 L567.44,455.75 L571.25,457.65 L575.06,459.55 L578.87,461.46 L582.67,463.36 L586.48,465.26 L590.29,467.17 L594.10,469.07 L597.91,470.97 L601.72,472.87 L605.53,474.78 L609.34,476.68 L613.15,478.58 L616.96,480.49 L620.77,482.39 L1118.03,479.07 L1118.03,532.19 L620.77,489.82 L616.96,487.82 L613.15,485.81 L609.34,483.80 L605.53,481.79 L601.72,479.78 L597.91,477.77 L594.10,475.76 L590.29,473.75 L586.48,471.74 L582.67,469.73 L578.87,467.73 L575.06,465.72 L571.25,463.71 L567.44,461.70 L563.63,459.69 L559.82,457.68 L556.01,455.67 L552.20,453.66 L548.39,451.65 L544.58,449.64 L540.77,447.63 L536.96,445.63 L533.15,443.62 L529.34,441.61 L525.53,439.60 L521.72,437.59 L517.91,435.58 L514.11,433.57 L510.30,431.56 L506.49,429.55 L501.93,426.99 L497.37,424.43 L492.81,421.88 L488.26,419.32 L483.70,416.76 L479.14,414.20 L474.58,411.64 L470.03,409.08 L465.47,406.52 L460.91,404.09 L456.35,401.97 L451.79,399.85 L447.24,397.73 L442.68,395.61 L438.12,393.49 L433.56,391.37 L429.01,389.25 L424.45,387.13 L419.89,385.00 L415.33,382.88 L410.78,380.76 L406.22,378.64 L401.66,376.52 L397.10,374.40 L392.54,372.28 L387.99,370.16 L383.43,368.04 L378.87,365.91 L374.31,363.79 L369.76,361.67 L123.51,347.20 Z" fill="#0000ff" fill-opacity="0.5"/>
<path d="M123.5,347.2 L369.8,352.8 L506.5,427.4 L620.8,489.8 L1118.0,532.2" fill="none" stroke="#0000e0" stroke-width="2.5" stroke-linejoin="round" stroke-linecap="round"/>
</g>
<rect x="75.5" y="335.5" width="1092.0" height="207.0" fill="none" stroke="#000" stroke-width="1.1"/>
<line x1="70.6" x2="75.5" y1="520.50" y2="520.50" stroke="#000" stroke-width="1.1"/>
<text x="34.73 43.72 52.42 56.95" y="525.50" font-size="14.72" fill="#000">27.5</text>
<line x1="70.6" x2="75.5" y1="487.50" y2="487.50" stroke="#000" stroke-width="1.1"/>
<text x="34.64 43.46 52.13 56.71" y="492.50" font-size="14.72" fill="#000">30.0</text>
<line x1="70.6" x2="75.5" y1="454.50" y2="454.50" stroke="#000" stroke-width="1.1"/>
<text x="34.93 43.57 52.42 56.95" y="459.50" font-size="14.72" fill="#000">32.5</text>
<line x1="70.6" x2="75.5" y1="421.50" y2="421.50" stroke="#000" stroke-width="1.1"/>
<text x="34.64 43.40 52.13 56.71" y="426.50" font-size="14.72" fill="#000">35.0</text>
<line x1="70.6" x2="75.5" y1="388.50" y2="388.50" stroke="#000" stroke-width="1.1"/>
<text x="34.93 43.72 52.42 56.95" y="393.50" font-size="14.72" fill="#000">37.5</text>
<line x1="70.6" x2="75.5" y1="354.50" y2="354.50" stroke="#000" stroke-width="1.1"/>
<text x="34.62 43.46 52.13 56.71" y="359.50" font-size="14.72" fill="#000">40.0</text>
<line x1="161.50" x2="161.50" y1="542.5" y2="547.4" stroke="#000" stroke-width="1.1"/>
<text x="132.76 141.78 150.43 159.40 168.02 173.30 182.06" y="561.80" font-size="14.72" fill="#000">2025-01</text>
<line x1="284.50" x2="284.50" y1="542.5" y2="547.4" stroke="#000" stroke-width="1.1"/>
<text x="255.51 264.52 273.18 282.14 290.77 296.05 304.88" y="561.80" font-size="14.72" fill="#000">2025-04</text>
<line x1="408.50" x2="408.50" y1="542.5" y2="547.4" stroke="#000" stroke-width="1.1"/>
<text x="379.71 388.73 397.38 406.35 414.97 420.25 429.06" y="561.80" font-size="14.72" fill="#000">2025-07</text>
<line x1="533.50" x2="533.50" y1="542.5" y2="547.4" stroke="#000" stroke-width="1.1"/>
<text x="504.58 513.60 522.25 531.22 539.84 545.04 553.95" y="561.80" font-size="14.72" fill="#000">2025-10</text>
<line x1="658.50" x2="658.50" y1="542.5" y2="547.4" stroke="#000" stroke-width="1.1"/>
<text x="629.76 638.78 647.43 656.45 665.02 670.30 679.06" y="561.80" font-size="14.72" fill="#000">2026-01</text>
<line x1="780.50" x2="780.50" y1="542.5" y2="547.4" stroke="#000" stroke-width="1.1"/>
<text x="751.51 760.52 769.18 778.20 786.77 792.05 800.88" y="561.80" font-size="14.72" fill="#000">2026-04</text>
<line x1="904.50" x2="904.50" y1="542.5" y2="547.4" stroke="#000" stroke-width="1.1"/>
<text x="875.71 884.73 893.38 902.40 910.97 916.25 925.06" y="561.80" font-size="14.72" fill="#000">2026-07</text>
<line x1="1029.50" x2="1029.50" y1="542.5" y2="547.4" stroke="#000" stroke-width="1.1"/>
<text x="1000.58 1009.60 1018.25 1027.27 1035.84 1041.04 1049.95" y="561.80" font-size="14.72" fill="#000">2026-10</text>
<line x1="1154.50" x2="1154.50" y1="542.5" y2="547.4" stroke="#000" stroke-width="1.1"/>
<text x="1125.76 1134.78 1143.43 1152.42 1161.02 1166.30 1175.06" y="561.80" font-size="14.72" fill="#000">2027-01</text>
<text x="604.39 614.67 624.19 629.20" y="581.80" font-size="14.72" fill="#000">Date</text>
<g transform="translate(26.3,440.25) rotate(-90)"><text x="-17.74 -8.45 -3.11 0.42 8.29" y="0.00" font-size="14.72" fill="#000">Price</text></g>
<rect x="82.7" y="77.6" width="135.5" height="129.3" rx="1.8" fill="#fff" fill-opacity="0.8" stroke="#cccccc" stroke-width="1.1"/>
<line x1="86.1" x2="116.0" y1="88.8" y2="88.8" stroke="#008000" stroke-width="2.1"/>
<line x1="86.1" x2="116.0" y1="109.7" y2="109.7" stroke="#e00000" stroke-width="2.1"/>
<line x1="86.1" x2="116.0" y1="130.6" y2="130.6" stroke="#0000e0" stroke-width="2.1"/>
<rect x="87" y="147.6" width="28.3" height="9.5" fill="#008000" fill-opacity="0.25"/>
<rect x="87" y="168.5" width="28.3" height="9.5" fill="#ff0000" fill-opacity="0.25"/>
<rect x="87" y="189.4" width="28.3" height="9.5" fill="#0000ff" fill-opacity="0.5"/>
<text x="126.30 137.15 140.94 149.84" y="93.80" font-size="14.72" fill="#000">High</text>
<text x="126.46 134.05 142.75" y="114.70" font-size="14.72" fill="#000">Low</text>
<text x="125.86 136.39 140.12 148.49 155.90" y="135.60" font-size="14.72" fill="#000">Close</text>
<text x="126.30 137.15 140.94 149.84 158.48 162.47 171.72 180.93 189.63 198.42" y="156.50" font-size="14.72" fill="#000">High Range</text>
<text x="126.46 134.05 142.75 153.91 157.90 167.15 176.36 185.06 193.85" y="177.40" font-size="14.72" fill="#000">Low Range</text>
<text x="125.86 136.39 140.12 148.49 155.90 164.40 168.38 177.63 186.85 195.54 204.33" y="198.30" font-size="14.72" fill="#000">Close Range</text>
<rect x="82.7" y="342.6" width="135.5" height="129.3" rx="1.8" fill="#fff" fill-opacity="0.8" stroke="#cccccc" stroke-width="1.1"/>
<line x1="86.1" x2="116.0" y1="353.8" y2="353.8" stroke="#008000" stroke-width="2.1"/>
<line x1="86.1" x2="116.0" y1="374.7" y2="374.7" stroke="#e00000" stroke-width="2.1"/>
<line x1="86.1" x2="116.0" y1="395.6" y2="395.6" stroke="#0000e0" stroke-width="2.1"/>
<rect x="87" y="412.6" width="28.3" height="9.5" fill="#008000" fill-opacity="0.25"/>
<rect x="87" y="433.5" width="28.3" height="9.5" fill="#ff0000" fill-opacity="0.25"/>
<rect x="87" y="454.4" width="28.3" height="9.5" fill="#0000ff" fill-opacity="0.5"/>
<text x="126.30 137.15 140.94 149.84" y="358.80" font-size="14.72" fill="#000">High</text>
<text x="126.46 134.05 142.75" y="379.70" font-size="14.72" fill="#000">Low</text>
<text x="125.86 136.39 140.12 148.49 155.90" y="400.60" font-size="14.72" fill="#000">Close</text>
<text x="126.30 137.15 140.94 149.84 158.48 162.47 171.72 180.93 189.63 198.42" y="421.50" font-size="14.72" fill="#000">High Range</text>
<text x="126.46 134.05 142.75 153.91 157.90 167.15 176.36 185.06 193.85" y="442.40" font-size="14.72" fill="#000">Low Range</text>
<text x="125.86 136.39 140.12 148.49 155.90 164.40 168.38 177.63 186.85 195.54 204.33" y="463.30" font-size="14.72" fill="#000">Close Range</text>
<text x="216.44 244.31 259.14 284.85 311.51 322.10 347.01 361.59 374.99 402.86 418.89 429.48 453.09 478.57 491.27 514.74 541.77" y="161.50" font-size="44.15" fill="#000000" fill-opacity="0.05">Predict-Price.com</text>
<text x="618.44 646.31 661.14 686.85 713.51 724.10 749.01 763.59 776.99 804.86 820.89 831.48 855.09 880.57 893.27 916.74 943.77" y="161.50" font-size="44.15" fill="#000000" fill-opacity="0.05">Predict-Price.com</text>
<text x="216.44 244.31 259.14 284.85 311.51 322.10 347.01 361.59 374.99 402.86 418.89 429.48 453.09 478.57 491.27 514.74 541.77" y="311.50" font-size="44.15" fill="#000000" fill-opacity="0.05">Predict-Price.com</text>
<text x="618.44 646.31 661.14 686.85 713.51 724.10 749.01 763.59 776.99 804.86 820.89 831.48 855.09 880.57 893.27 916.74 943.77" y="311.50" font-size="44.15" fill="#000000" fill-opacity="0.05">Predict-Price.com</text>
<text x="216.44 244.31 259.14 284.85 311.51 322.10 347.01 361.59 374.99 402.86 418.89 429.48 453.09 478.57 491.27 514.74 541.77" y="461.50" font-size="44.15" fill="#000000" fill-opacity="0.05">Predict-Price.com</text>
<text x="618.44 646.31 661.14 686.85 713.51 724.10 749.01 763.59 776.99 804.86 820.89 831.48 855.09 880.57 893.27 916.74 943.77" y="461.50" font-size="44.15" fill="#000000" fill-opacity="0.05">Predict-Price.com</text>
</svg></body></html>
